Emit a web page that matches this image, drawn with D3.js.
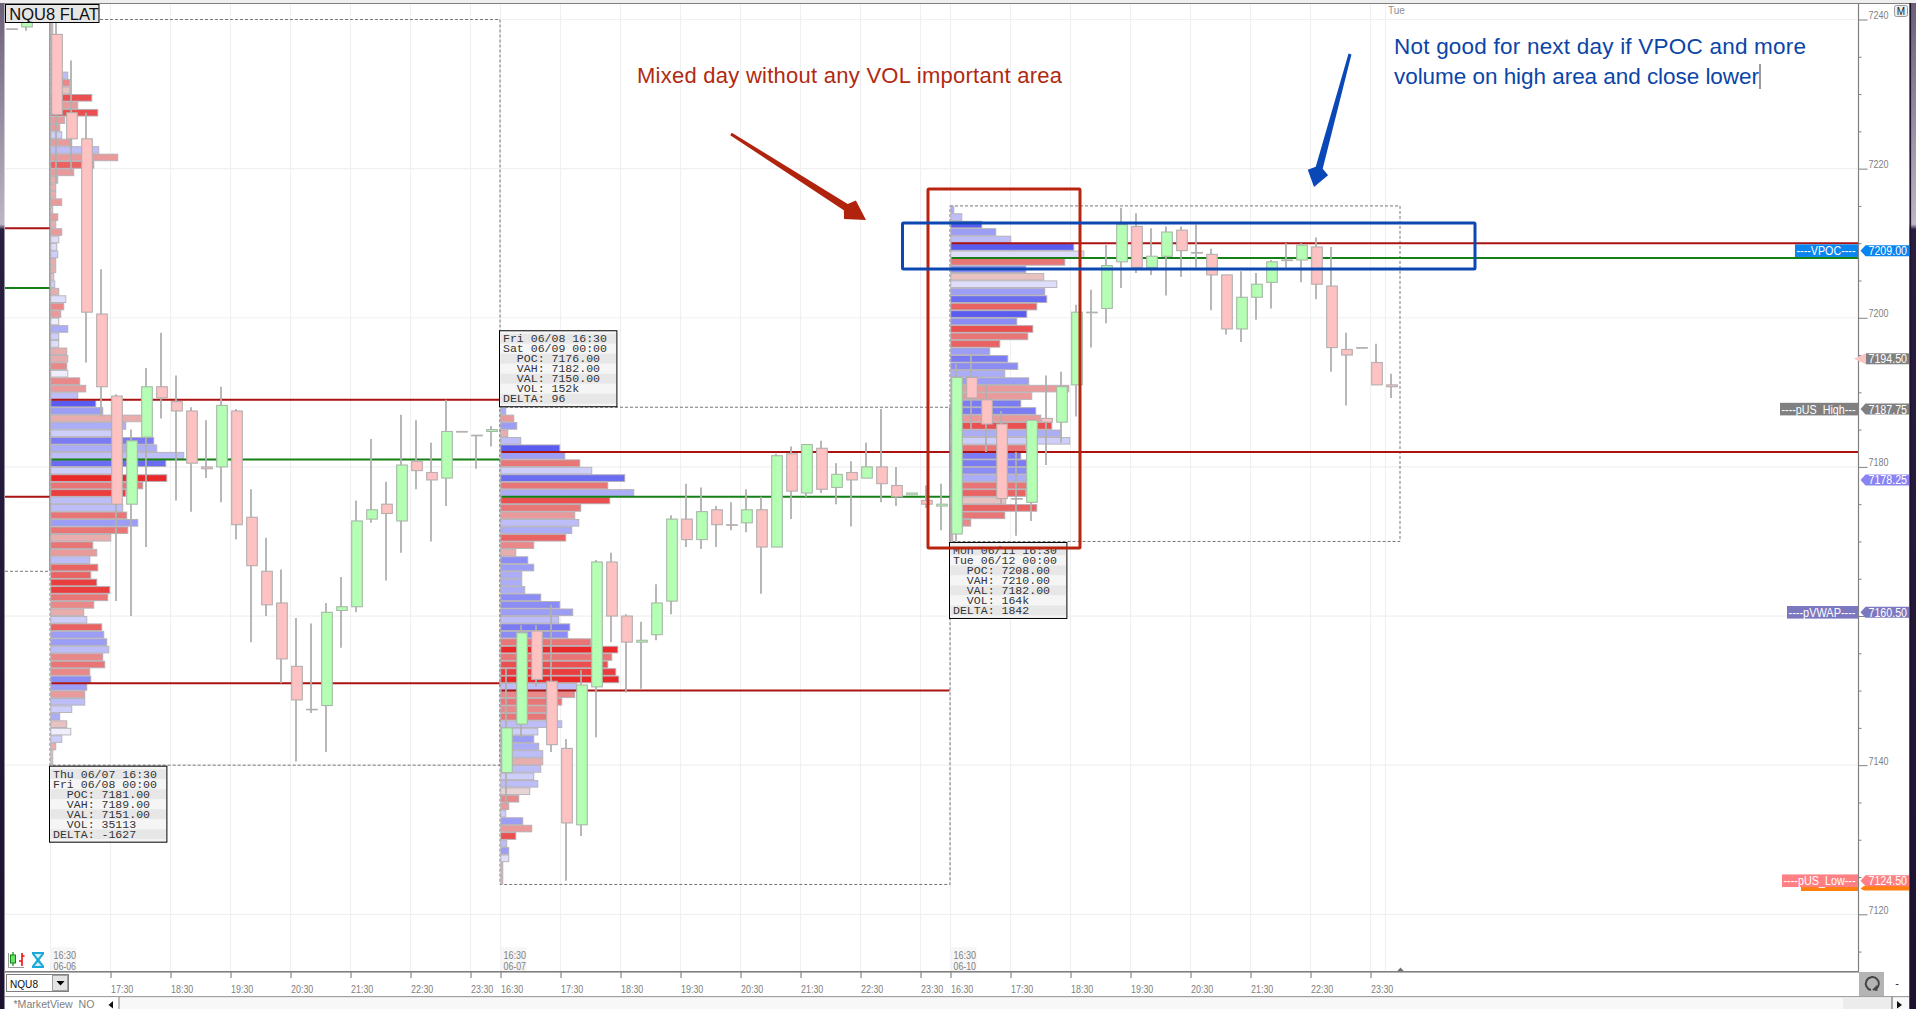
<!DOCTYPE html>
<html><head><meta charset="utf-8">
<script src="https://cdn.jsdelivr.net/npm/d3@7"></script>
<style>html,body{margin:0;padding:0;background:#fff;overflow:hidden}svg{display:block}text{white-space:pre}</style>
</head><body><svg id="c" width="1916" height="1009"></svg>
<script>
// ---------- DATA ----------
const prevCandles = [[7238.75,7238.75,7238.75,7238.75],[7239,7240.5,7238.5,7240],[7240,7241,7239.5,7239.75]];
const session1Candles = [
[7238,7239.75,7218,7227.25],[7227.5,7234.5,7219.5,7224],[7224,7227.5,7194,7200.75],[7200.5,7206.5,7186.75,7190.75],[7189.5,7189.75,7162,7175],
[7175,7185,7160,7183.5],[7184,7193.25,7169.25,7190.75],[7190.75,7198,7186.5,7189.25],[7188.75,7192.25,7175.5,7187.5],[7187.5,7188,7174,7180.5],
[7180,7186.25,7178.5,7179.75],[7180,7190.75,7175.25,7188.25],[7187.5,7187.75,7170.25,7172.25],[7173.25,7177,7156.5,7166.75],[7166,7170.5,7160,7161.5],
[7161.75,7166.25,7151,7154.25],[7153.25,7159.75,7140.5,7148.75],[7147.5,7159,7147,7147.5],[7148,7161.75,7141.75,7160.5],[7160.75,7165.25,7155.75,7161.25],
[7161.25,7175.5,7160.5,7172.75],[7173,7183.75,7172.5,7174.25],[7175,7178,7164.75,7173.75],[7172.75,7187,7168.5,7180.25],[7180.75,7186.25,7177,7179.5],
[7179.25,7183.25,7170,7178.25],[7178.5,7189,7174.75,7184.75],[7184.75,7184.75,7184.75,7184.75],[7184.25,7184.25,7179.75,7184.25],[7184.75,7185.5,7182.75,7185]];
const session2Candles = [
[7139,7153,7134.75,7145],[7145.5,7158.75,7143.75,7157.75],[7158,7158.75,7150.5,7151.5],[7151.25,7161.5,7141.75,7142.75],[7142.25,7143.5,7124.5,7132.25],
[7132,7152.75,7130.5,7150.75],[7150.5,7167.5,7143.75,7167.25],[7167.25,7168.5,7156.5,7160],[7160,7160.25,7149.75,7156.5],[7156.5,7159.25,7150.25,7156.75],
[7157.5,7164.25,7156.75,7161.75],[7162,7173.5,7160.25,7173],[7173,7177.75,7169.25,7170.25],[7170.25,7177.25,7169,7174],[7174.25,7174.75,7169.25,7172.25],
[7172.25,7175.25,7171.5,7172.25],[7172.5,7177,7171.25,7174.25],[7174.25,7176,7163,7169.25],[7169.25,7181.75,7169.25,7181.5],[7181.75,7182.75,7173,7176.75],
[7176.5,7183,7176,7183],[7182.5,7183.5,7176.5,7177],[7177.25,7180.5,7175,7179],[7179.25,7180.75,7172,7178.25],[7178.5,7183.25,7178.5,7180],
[7180,7187.75,7175.25,7177.75],[7177.5,7180,7174.75,7176],[7176.25,7176.5,7176.25,7176.5],[7175.5,7177.5,7174.5,7175],[7174.75,7177.75,7171.5,7175]];
const session3Candles = [
[7171,7193.75,7170,7192],[7192,7195.25,7185,7189.25],[7189,7191,7182,7185.75],[7185.75,7187.5,7175,7175.75],[7175.75,7182,7170.75,7175.75],
[7175.25,7186.25,7172.75,7186.25],[7186.5,7192.25,7180.25,7186],[7186,7192.75,7183.25,7190.75],[7191,7201.75,7186.75,7200.75],[7200.75,7203.75,7196,7200.75],
[7201.25,7209.75,7199.25,7207],[7207.5,7214.75,7204,7212.5],[7212.25,7214,7206,7206.75],[7206.75,7212,7205.75,7208.25],[7208.25,7212.25,7203,7211.5],
[7211.75,7212.25,7205.5,7209],[7208.75,7212.5,7206.75,7208.75],[7208.5,7209.25,7201,7205.75],[7205.75,7205.75,7197.75,7198.5],[7198.5,7206.25,7196.75,7202.75],
[7202.75,7206,7199.75,7204.5],[7204.75,7207.75,7201.25,7207.5],[7207.75,7210,7206.75,7207.75],[7207.75,7210,7204.75,7209.75],[7209.5,7210.75,7202.5,7204.5],
[7204.25,7209.5,7192.75,7196],[7195.75,7198,7188.25,7195],[7196,7196,7196,7196],[7194,7196.5,7191,7191],[7191,7192.5,7189.25,7190.75]];

const profile1TopPrice = 7239;
const profile1Volume = [2,2,8,8,8,8,8,17,19,19,41,27,47,14,9,11,21,48,67,43,23,7,5,5,11,2,7,5,11,8,6,7,5,5,3,4,8,15,13,10,8,17,8,8,16,17,16,17,29,35,27,45,52,92,75,61,103,106,133,115,62,116,92,75,61,72,76,87,77,60,42,46,39,47,40,46,59,57,43,33,36,51,53,56,58,52,54,39,40,36,34,34,21,9,16,20,11,5,2,2];
const profile1Delta = [-3,-3,-3,-3,-3,-3,-3,4,-5,-2,-8,-4,-8,-4,-4,3,-4,4,-4,-7,-4,-3,-3,-3,-4,-2,-4,-3,-4,2,2,3,-3,-3,-2,3,-3,2,-5,-4,1,5,3,2,-3,-3,-5,1,-5,-4,4,10,6,-3,5,3,8,5,4,9,3,-10,-6,-9,4,4,-6,6,-6,-3,-6,-4,4,-7,-7,-9,-9,-6,-5,-3,3,-7,6,6,4,-5,-6,-5,7,6,-4,4,3,5,-2,1,3,-3,-2,-2];
const profile2TopPrice = 7187;
const profile2Volume = [5,13,16,7,20,59,64,79,91,124,107,133,109,80,74,78,71,65,33,15,27,33,21,21,24,40,59,72,58,69,67,90,117,111,107,115,118,76,74,61,46,46,61,37,33,38,42,42,40,33,37,29,18,8,5,22,31,15,6,8,8,2,2,2];
const profile2Delta = [5,-4,6,-3,4,10,6,-6,3,9,-6,5,-8,-6,-4,4,5,-7,-5,-3,7,6,5,5,5,7,7,6,4,8,7,-6,-10,-6,-8,-9,-10,4,-5,-6,-5,-6,4,3,6,5,4,-3,4,3,4,-1,-5,-4,3,6,-4,-8,4,6,2,-3,-3,-3];
const profile3TopPrice = 7214;
const profile3Volume = [3,11,31,45,60,123,133,114,75,93,106,94,96,86,76,66,82,77,49,39,57,67,54,78,118,81,70,85,90,101,110,119,75,70,76,76,76,76,75,55,86,54,20,2,2];
const profile3Delta = [5,4,10,6,4,10,2,-6,7,-2,2,6,9,-7,10,7,-8,-6,-7,6,8,7,5,6,-4,-4,8,8,-4,-8,5,3,-6,8,8,7,5,-6,-7,-2,-7,-6,-5,-3,-3];

const sessionVah = [7189,7182,7210];
const sessionPoc = [7181,7176,7208];
const sessionVal = [7151,7150,7182];
const prevVah = 7212, prevPoc = 7204, prevVal = 7176, prevBoxLow = 7166;
const sessionStartBar = [0,30,60];
const sessionEndBar = [30,60,90];
const sessionBoxHigh = [7240,7188,7215];
const sessionBoxLow = [7140,7124,7170];
const tooltips = [
 ["Thu 06/07 16:30","Fri 06/08 00:00","  POC: 7181.00","  VAH: 7189.00","  VAL: 7151.00","  VOL: 35113","DELTA: -1627"],
 ["Fri 06/08 16:30","Sat 06/09 00:00","  POC: 7176.00","  VAH: 7182.00","  VAL: 7150.00","  VOL: 152k","DELTA: 96"],
 ["Mon 06/11 16:30","Tue 06/12 00:00","  POC: 7208.00","  VAH: 7210.00","  VAL: 7182.00","  VOL: 164k","DELTA: 1842"]];

const priceTicks = [7240,7220,7200,7180,7160,7140,7120];
const minorPriceTicks = [7235,7230,7225,7215,7210,7205,7195,7190,7185,7175,7170,7165,7155,7150,7145,7135,7130,7125,7115];
const timeTickBars = [4,8,12,16,20,24,28,30,34,38,42,46,50,54,58,60,64,68,72,76,80,84,88];
const timeTickLabels = ["17:30","18:30","19:30","20:30","21:30","22:30","23:30","16:30","17:30","18:30","19:30","20:30","21:30","22:30","23:30","16:30","17:30","18:30","19:30","20:30","21:30","22:30","23:30"];
const sessionDates = ["06-06","06-07","06-10"];

const tagValues = [7209,7194.5,7187.75,7178.25,7160.5,7124.5];
const tagTexts  = ["7209.00","7194.50","7187.75","7178.25","7160.50","7124.50"];
const tagNames  = ["----VPOC----","","----pUS_High---","","----pVWAP----","----pUS_Low---"];
const tagColors = ["#0a84ee","#808080","#808080","#8a84f2","#7c78c0","#ff8084"];

// ---------- SCALES ----------
const svg = d3.select("#c");
const y = d3.scaleLinear().domain([7240,7120]).range([19.5,914.3]);
const x = d3.scaleLinear().domain([0,90]).range([50.5,1400.5]);
const volW = d3.scaleLinear().domain([0,133]).range([0,133]);
const step = y(7239)-y(7240);
const redC = d3.scaleLinear().domain([1,10]).range(["#e8d4d4","#ea2a2a"]);
const blueC = d3.scaleLinear().domain([1,10]).range(["#eeeefc","#5a5cf0"]);
const deltaColor = d => d<0 ? redC(-d) : blueC(d);
const axisRight = 1858.5;

// ---------- GRID ----------
const grid = svg.append("g").attr("stroke","#f0f0f0").attr("stroke-width",1.2);
grid.selectAll("line.h").data(priceTicks).join("line").attr("x1",5).attr("x2",axisRight).attr("y1",d=>y(d)).attr("y2",d=>y(d));
grid.selectAll("line.v").data([0,...timeTickBars,89]).join("line").attr("x1",d=>x(d)).attr("x2",d=>x(d)).attr("y1",4).attr("y2",971);

// ---------- DASHED BOXES ----------
const dash = svg.append("g").attr("fill","none").attr("stroke","#777").attr("stroke-width",1).attr("stroke-dasharray","3,2");
sessionStartBar.forEach((s,i)=>{
  dash.append("rect").attr("x",x(s)-0.5).attr("y",y(sessionBoxHigh[i])).attr("width",x(sessionEndBar[i])-x(s)).attr("height",y(sessionBoxLow[i])-y(sessionBoxHigh[i]));
});
dash.append("line").attr("x1",5).attr("x2",x(0)).attr("y1",y(prevBoxLow)).attr("y2",y(prevBoxLow));
const solid = svg.append("g").attr("stroke","#999").attr("stroke-width",1.6);
solid.append("line").attr("x1",x(0)-0.6).attr("x2",x(0)-0.6).attr("y1",4).attr("y2",y(prevBoxLow));
solid.append("line").attr("x1",x(60)-0.6).attr("x2",x(60)-0.6).attr("y1",y(sessionBoxHigh[1])).attr("y2",y(sessionBoxLow[2]));

// ---------- PROFILES ----------
function profile(top,vols,deltas,startBar){
  svg.append("g").selectAll("rect").data(vols).join("rect")
    .attr("x",x(startBar)+0.3)
    .attr("y",(d,i)=>y(top-i+1)+0.4)
    .attr("width",d=>volW(d))
    .attr("height",step-0.8)
    .attr("fill",(d,i)=>deltaColor(deltas[i]))
    .attr("stroke","#b4b0b6").attr("stroke-width",0.9);
}
profile(profile1TopPrice,profile1Volume,profile1Delta,0);
profile(profile2TopPrice,profile2Volume,profile2Delta,30);
profile(profile3TopPrice,profile3Volume,profile3Delta,60);

// ---------- VALUE AREA LINES ----------
const RED="#ab1212", GREEN="#158015";
const lines = svg.append("g").attr("stroke-width",2);
function hline(p,x1,x2,c){lines.append("line").attr("x1",x1).attr("x2",x2).attr("y1",y(p)).attr("y2",y(p)).attr("stroke",c);}
hline(prevVah,5,x(0)-1,RED);hline(prevPoc,5,x(0)-1,GREEN);hline(prevVal,5,x(0)-1,RED);
sessionStartBar.forEach((s,i)=>{
  const x1=x(s)+1, x2=i==2?axisRight:x(sessionEndBar[i])-1;
  hline(sessionVah[i],x1,x2,RED);hline(sessionPoc[i],x1,x2,GREEN);hline(sessionVal[i],x1,x2,RED);
});

// ---------- CANDLES ----------
function candles(data,startBar){
  const g=svg.append("g").selectAll("g").data(data).join("g");
  const bx=i=>x(startBar+i);
  g.append("line").attr("x1",(d,i)=>bx(i)+5.5).attr("x2",(d,i)=>bx(i)+5.5)
    .attr("y1",d=>y(d[1])).attr("y2",d=>y(d[2])).attr("stroke","#b0b0b0").attr("stroke-width",1.8);
  g.append("rect").attr("x",(d,i)=>bx(i)+1.2).attr("width",10.6)
    .attr("y",d=>y(Math.max(d[0],d[3])))
    .attr("height",d=>Math.max(0.6,Math.abs(y(d[0])-y(d[3]))))
    .attr("fill",d=>d[3]>d[0]?"#b4ffb4":"#ffc2c2")
    .attr("stroke",d=>d[3]>d[0]?"#a8b8a8":"#b4aeae").attr("stroke-width",1.1);
}
candles(prevCandles,-3);candles(session1Candles,0);candles(session2Candles,30);candles(session3Candles,60);

// ---------- TOOLTIPS ----------
const mono="'Liberation Mono','DejaVu Sans Mono',monospace";
tooltips.forEach((rows,i)=>{
  const tx=x(sessionStartBar[i])-1;
  const ty=i==1? y(sessionBoxHigh[i])-76.5 : y(sessionBoxLow[i])+1;
  const g=svg.append("g").attr("transform",`translate(${tx},${ty})`);
  g.append("rect").attr("width",117.4).attr("height",76).attr("fill","#f4f4f4");
  g.selectAll("rect.r").data(rows).join("rect").attr("x",1).attr("width",115.4).attr("y",(d,k)=>3+k*10).attr("height",10)
    .attr("fill",(d,k)=>k%2?"#f5f5f5":"#e7e7e7");
  g.selectAll("text").data(rows).join("text").attr("x",3.5).attr("y",(d,k)=>11.5+k*10)
    .attr("font-family",mono).attr("font-size",11.55).attr("fill","#333").text(d=>d);
  g.append("rect").attr("width",117.4).attr("height",76).attr("fill","none").attr("stroke","#000").attr("stroke-width",1);
});

// ---------- ANNOTATIONS ----------
const ann=svg.append("g");
ann.append("rect").attr("x",928).attr("y",189).attr("width",152).attr("height",359).attr("fill","none").attr("stroke","#b92410").attr("stroke-width",3).attr("rx",1);
ann.append("rect").attr("x",902.5).attr("y",223).attr("width",572.5).attr("height",46).attr("fill","none").attr("stroke","#0c48b0").attr("stroke-width",3).attr("rx",1);
const sans="'Liberation Sans',Arial,sans-serif";
ann.append("text").attr("x",637).attr("y",83).attr("font-family",sans).attr("font-size",22).attr("fill","#b02a12").attr("textLength",425).text("Mixed day without any VOL important area");
ann.append("text").attr("x",1394).attr("y",54).attr("font-family",sans).attr("font-size",22.5).attr("fill","#0c45a8").attr("textLength",412).text("Not good for next day if VPOC and more");
ann.append("text").attr("x",1394).attr("y",84).attr("font-family",sans).attr("font-size",22.5).attr("fill","#0c45a8").attr("textLength",365).text("volume on high area and close lower");
ann.append("line").attr("x1",1760).attr("x2",1760).attr("y1",64).attr("y2",89).attr("stroke","#707070").attr("stroke-width",1.4);
function arrow(x0,y0,x1,y1,c,tail,neck,head,hl){
  const a=Math.atan2(y1-y0,x1-x0),ux=Math.cos(a),uy=Math.sin(a),nx=-uy,ny=ux;
  const bx=x1-ux*hl,by=y1-uy*hl;
  const pts=[[x0+nx*tail,y0+ny*tail],[bx+nx*neck,by+ny*neck],[bx+ux*5+nx*head,by+uy*5+ny*head],[x1,y1],[bx+ux*5-nx*head,by+uy*5-ny*head],[bx-nx*neck,by-ny*neck],[x0-nx*tail,y0-ny*tail]];
  ann.append("polygon").attr("points",pts.map(p=>p.join(",")).join(" ")).attr("fill",c);
}
arrow(731,134,866,220,"#b0230c",1.5,3.6,11,24);
arrow(1350,54,1314,187,"#0a48b8",1.5,3.6,10.5,20);

// ---------- PRICE AXIS ----------
const yAxis=d3.axisRight(y).tickValues(priceTicks).tickSize(9).tickPadding(1).tickFormat(d=>d===7160?"":d3.format("d")(d));
const ax=svg.append("g").attr("transform",`translate(${axisRight},0)`).call(yAxis);
ax.select(".domain").remove();
ax.selectAll("line").attr("stroke","#808080");
ax.selectAll("text").attr("font-family",sans).attr("font-size",11).attr("fill","#808080").attr("dy",0).attr("y",-1).attr("textLength",20).attr("lengthAdjust","spacingAndGlyphs");
const ax2=svg.append("g").attr("transform",`translate(${axisRight},0)`).call(d3.axisRight(y).tickValues(minorPriceTicks).tickSize(3).tickFormat(""));
ax2.select(".domain").remove();ax2.selectAll("line").attr("stroke","#808080");
svg.append("line").attr("x1",axisRight).attr("x2",axisRight).attr("y1",4).attr("y2",972).attr("stroke","#808080").attr("stroke-width",1.2);

// ---------- PRICE TAGS ----------
svg.append("rect").attr("x",1801).attr("y",886).attr("width",57).attr("height",5).attr("fill","#ff7f10");
svg.append("path").attr("d","M1860.5,888.5 L1864,886 L1909,886 L1909,890.6 L1864,890.6Z").attr("fill","#ff7f10");
tagValues.forEach((v,i)=>{
  const yy=y(v), c=tagColors[i];
  if(i==1){
    svg.append("path").attr("d",`M1854,${yy} L1866,${yy-5.5} L1866,${yy+5.5}Z`).attr("fill","#f8c4c4");
    svg.append("rect").attr("x",1866).attr("y",yy-5.5).attr("width",43).attr("height",11).attr("fill",c);
  } else {
    svg.append("path").attr("d",`M1860.5,${yy} L1865.5,${yy-5.5} L1909,${yy-5.5} L1909,${yy+5.5} L1865.5,${yy+5.5}Z`).attr("fill",c);
  }
  svg.append("text").attr("x",1868.5).attr("y",yy+4.5).attr("font-family",sans).attr("font-size",12.5).attr("fill","#fff")
    .attr("textLength",38.5).attr("lengthAdjust","spacingAndGlyphs").text(tagTexts[i]);
  if(tagNames[i]){
    const w={"----VPOC----":63,"----pUS_High---":78,"----pVWAP----":71,"----pUS_Low---":76}[tagNames[i]];
    svg.append("rect").attr("x",axisRight-w-0.5).attr("y",yy-6.3).attr("width",w).attr("height",12.6).attr("fill",c);
    svg.append("text").attr("x",axisRight-3).attr("text-anchor","end").attr("y",yy+4.5).attr("font-family",sans).attr("font-size",12.5).attr("fill","#fff")
      .attr("textLength",w-4).attr("lengthAdjust","spacingAndGlyphs").text(tagNames[i]);
  }
});
svg.append("text").attr("x",1388).attr("y",14).attr("font-family",sans).attr("font-size",10).attr("fill","#909090").text("Tue");

// ---------- TIME AXIS ----------
svg.selectAll("rect.dbg").data(sessionStartBar).join("rect").attr("x",d=>x(d)).attr("y",947).attr("width",26).attr("height",24).attr("fill","#f6f6f6");
sessionStartBar.forEach((s,i)=>{
  svg.append("text").attr("x",x(s)+3).attr("y",959).attr("font-family",sans).attr("font-size",11).attr("fill","#808080").attr("textLength",22.5).attr("lengthAdjust","spacingAndGlyphs").text("16:30");
  svg.append("text").attr("x",x(s)+3).attr("y",969.5).attr("font-family",sans).attr("font-size",11).attr("fill","#808080").attr("textLength",22.5).attr("lengthAdjust","spacingAndGlyphs").text(sessionDates[i]);
});
svg.append("rect").attr("x",5).attr("y",971).attr("width",1904).attr("height",26).attr("fill","#fff");
const xAxis=d3.axisBottom(x).tickValues(timeTickBars).tickSize(6).tickFormat((d,i)=>timeTickLabels[i]);
const tx=svg.append("g").attr("transform","translate(0,972)").call(xAxis);
tx.select(".domain").remove();
tx.selectAll("line").attr("stroke","#707070");
tx.selectAll("text").attr("font-family",sans).attr("font-size",11).attr("fill","#808080").attr("text-anchor","start").attr("y",21).attr("dy",0).attr("textLength",22.3).attr("lengthAdjust","spacingAndGlyphs");
svg.append("path").attr("d","M1396.5,972 L1400.5,967.5 L1404.5,972Z").attr("fill","#707070");

// ---------- CHROME ----------
svg.append("rect").attr("x",5).attr("y",971).attr("width",1854).attr("height",1.6).attr("fill","#808080");
svg.append("rect").attr("x",5).attr("y",996).attr("width",1904).attr("height",1.4).attr("fill","#a0a0a0");
svg.append("rect").attr("x",0).attr("y",0).attr("width",1916).attr("height",3).attr("fill","#eeeeee");
svg.append("rect").attr("x",0).attr("y",3).attr("width",1916).attr("height",1).attr("fill","#808080");
const defs=svg.append("defs");
const lg=defs.append("linearGradient").attr("id","fr").attr("x1",0).attr("x2",0).attr("y1",0).attr("y2",1);
lg.append("stop").attr("offset",0).attr("stop-color","#6b5f78");lg.append("stop").attr("offset",0.22).attr("stop-color","#bdb6c4");
lg.append("stop").attr("offset",0.225).attr("stop-color","#2a1e40");lg.append("stop").attr("offset",1).attr("stop-color","#1c1230");
svg.append("rect").attr("x",0).attr("y",3).attr("width",4.5).attr("height",1006).attr("fill","url(#fr)");
svg.append("rect").attr("x",1909.5).attr("y",3).attr("width",6.5).attr("height",1006).attr("fill","url(#fr)");
svg.append("rect").attr("x",1909.5).attr("y",3).attr("width",1.6).attr("height",1006).attr("fill","#1c1230");
// title
svg.append("rect").attr("x",5.5).attr("y",4.5).attr("width",93.5).attr("height",18).attr("fill","#e6e6e6").attr("stroke","#000").attr("stroke-width",1);
svg.append("text").attr("x",9.3).attr("y",19.5).attr("font-family",sans).attr("font-size",16.5).attr("fill","#111").text("NQU8 FLAT");
// M button
svg.append("rect").attr("x",1894.5).attr("y",5.5).attr("width",13).attr("height",11).attr("rx",2).attr("fill","#eee").attr("stroke","#999");
svg.append("text").attr("x",1901).attr("y",14.5).attr("text-anchor","middle").attr("font-family",sans).attr("font-size",10).attr("fill","#222").text("M");
// icons
svg.append("path").attr("d","M8.5,953V967.5H24").attr("fill","none").attr("stroke","#999");
svg.append("line").attr("x1",13).attr("x2",13).attr("y1",952).attr("y2",966).attr("stroke","#0a8a0a").attr("stroke-width",1.2);
svg.append("rect").attr("x",10.5).attr("y",955).attr("width",5).attr("height",8).attr("fill","#6fe06f").attr("stroke","#0a8a0a");
svg.append("path").attr("d","M22,953V966M22,956H24.5M22,961H19").attr("fill","none").attr("stroke","#ee1111").attr("stroke-width",1.6);
svg.append("path").attr("d","M32,952H44V954L39.5,960L44,966V968H32V966L36.5,960L32,954Z").attr("fill","#1aa9d8");
svg.append("path").attr("d","M34.5,954H41.5L38,958.5Z M34.5,966H41.5L38,962Z").attr("fill","#d0f0fa");
// symbol box
svg.append("rect").attr("x",6.5).attr("y",974.5).attr("width",62).attr("height",17).attr("fill","#fff").attr("stroke","#808080");
svg.append("rect").attr("x",52.5).attr("y",975.5).attr("width",15).attr("height",15).attr("fill","#e4e4e4").attr("stroke","#a0a0a0");
svg.append("path").attr("d","M56.5,981H64.5L60.5,985.5Z").attr("fill","#000");
svg.append("text").attr("x",10).attr("y",987.5).attr("font-family",sans).attr("font-size",11.5).attr("fill","#111").attr("textLength",28).attr("lengthAdjust","spacingAndGlyphs").text("NQU8");
// refresh and minus buttons
svg.append("rect").attr("x",1859).attr("y",972).attr("width",25).attr("height",24).attr("fill","#b4b4b4");
svg.append("path").attr("d","M1876,989 A6.5,6.5 0 1 0 1871,990").attr("fill","none").attr("stroke","#444").attr("stroke-width",2);
svg.append("path").attr("d","M1877,985 L1877.5,991 L1872,990Z").attr("fill","#444");
svg.append("text").attr("x",1897).attr("y",987).attr("text-anchor","middle").attr("font-family",sans).attr("font-size",11).attr("fill","#222").text("-");
// tabs
svg.append("rect").attr("x",5).attr("y",997.5).attr("width",1904).attr("height",12).attr("fill","#f8f8f8");
svg.append("rect").attr("x",5).attr("y",997.5).attr("width",114).attr("height",12).attr("fill","#fff");
svg.append("text").attr("x",13.5).attr("y",1008).attr("font-family",sans).attr("font-size",11.5).attr("fill","#808080").attr("textLength",81).attr("lengthAdjust","spacingAndGlyphs").text("*MarketView_NO");
svg.append("path").attr("d","M113,1001V1008.5L108.5,1005Z").attr("fill","#111");
svg.append("line").attr("x1",119).attr("x2",119).attr("y1",997).attr("y2",1009).attr("stroke","#808080");
svg.append("rect").attr("x",1843).attr("y",998).attr("width",48).attr("height",11).attr("fill","#ececec");
svg.append("line").attr("x1",1892).attr("x2",1892).attr("y1",997).attr("y2",1009).attr("stroke","#555");
svg.append("path").attr("d","M1897,1001V1008.5L1902,1005Z").attr("fill","#111");
</script></body></html>
